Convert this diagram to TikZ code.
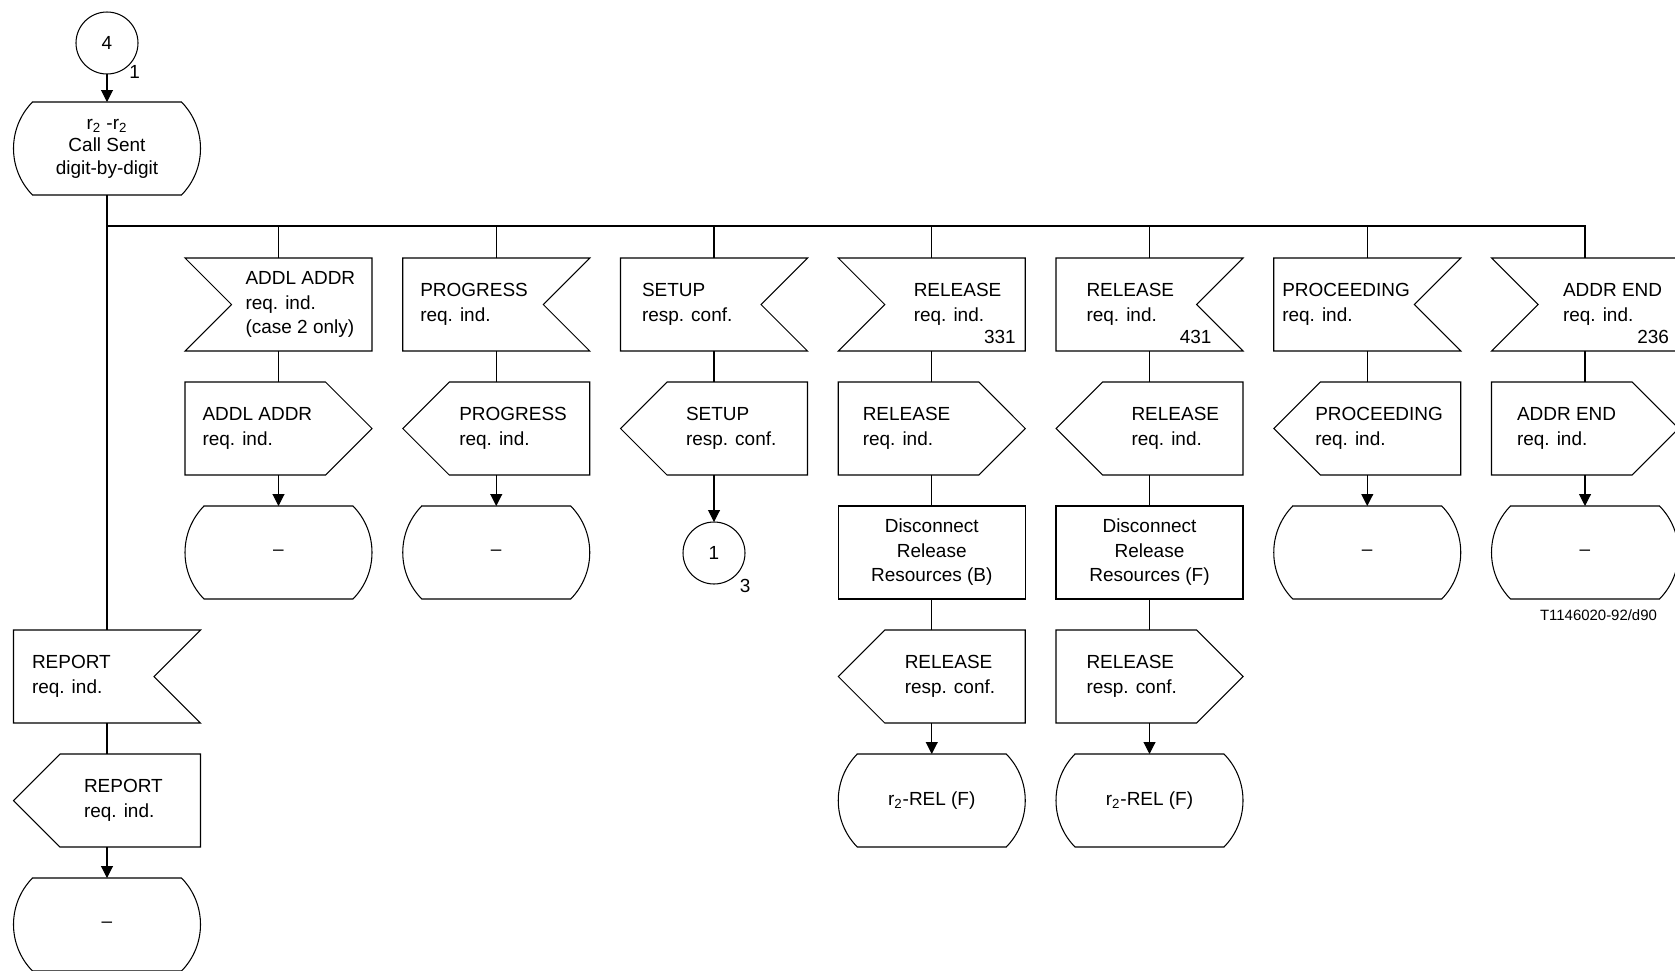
\documentclass[tikz,border=0pt]{standalone}
\usepackage{fontspec}
\setmainfont{Liberation Sans}
\usetikzlibrary{arrows.meta, positioning}
\tikzset{
  sdlframe/.style={rectangle, minimum width=3.74cm, minimum height=1.86cm,
    inner sep=0pt, outer sep=0pt},
  sdltext/.style={align=left, inner sep=0pt, anchor=west, xshift=#1},
  sdlnum/.style={inner sep=0pt, anchor=east, xshift=#1, yshift=-0.65cm},
  % input signals, notch on the left or on the right
  inwest/.style={sdlframe, append after command={\pgfextra{
    \draw (\tikzlastnode.north west) -- (\tikzlastnode.north east)
      -- (\tikzlastnode.south east) -- (\tikzlastnode.south west)
      -- ([xshift=0.93cm]\tikzlastnode.west) -- cycle;}}},
  ineast/.style={sdlframe, append after command={\pgfextra{
    \draw (\tikzlastnode.north west) -- (\tikzlastnode.north east)
      -- ([xshift=-0.93cm]\tikzlastnode.east) -- (\tikzlastnode.south east)
      -- (\tikzlastnode.south west) -- cycle;}}},
  % output signals, pointing left or right
  outwest/.style={sdlframe, append after command={\pgfextra{
    \draw ([xshift=0.93cm]\tikzlastnode.north west) -- (\tikzlastnode.north east)
      -- (\tikzlastnode.south east) -- ([xshift=0.93cm]\tikzlastnode.south west)
      -- (\tikzlastnode.west) -- cycle;}}},
  outeast/.style={sdlframe, append after command={\pgfextra{
    \draw (\tikzlastnode.north west) -- ([xshift=-0.93cm]\tikzlastnode.north east)
      -- (\tikzlastnode.east) -- ([xshift=-0.93cm]\tikzlastnode.south east)
      -- (\tikzlastnode.south west) -- cycle;}}},
  state/.style={sdlframe, align=center, append after command={\pgfextra{
    \draw ([xshift=0.38cm]\tikzlastnode.north west) -- ([xshift=-0.38cm]\tikzlastnode.north east)
      arc[start angle=44.45, end angle=-44.45, radius=1.328cm]
      -- ([xshift=0.38cm]\tikzlastnode.south west)
      arc[start angle=224.45, end angle=135.55, radius=1.328cm] -- cycle;}}},
  task/.style={sdlframe, align=center, append after command={\pgfextra{
    \draw (\tikzlastnode.north west) rectangle (\tikzlastnode.south east);}}},
  conn/.style={circle, draw, minimum size=1.24cm, inner sep=0pt, outer sep=0pt},
  flow/.style={-{Triangle[length=2.4mm, width=2.4mm]}},
  figtag/.style={font=\fontsize{8.5}{10}\selectfont, inner sep=0pt}
}

\begin{document}
\begin{tikzpicture}[node distance=0.62cm, line width=0.6pt,
    font=\fontsize{10.8}{13.9}\selectfont]
  \useasboundingbox (0,0) rectangle (33.5,-19.42);
  \node[conn, label={[inner sep=0pt]-45:1}] (c4) at (2.14,-0.86) {4};
  \node[state, below=0.56cm of c4, font=\fontsize{10.8}{12.8}\selectfont] (s0)
    {r\textsubscript{2} -r\textsubscript{2}\\Call Sent\\digit-by-digit};
  \coordinate[below=of s0] (bus);

  % received signals
  \node[inwest, label={[sdltext=1.2cm]west:ADDL ADDR\\req. ind.\\(case 2 only)}] (addlin) at (5.57,-6.09) {};
  \node[ineast, right=0.615cm of addlin, label={[sdltext=0.34cm]west:PROGRESS\\req. ind.}] (progin) {};
  \node[ineast, right=0.615cm of progin, label={[sdltext=0.42cm]west:SETUP\\resp. conf.}] (setupin) {};
  \node[inwest, right=0.615cm of setupin, label={[sdltext=1.5cm]west:RELEASE\\req. ind.},
    label={[sdlnum=-0.18cm]east:331}] (relbin) {};
  \node[ineast, right=0.615cm of relbin, label={[sdltext=0.6cm]west:RELEASE\\req. ind.},
    label={[sdlnum=-0.62cm]east:431}] (relfin) {};
  \node[ineast, right=0.615cm of relfin, label={[sdltext=0.16cm]west:PROCEEDING\\req. ind.}] (procin) {};
  \node[inwest, right=0.615cm of procin, label={[sdltext=1.42cm]west:ADDR END\\req. ind.},
    label={[sdlnum=-0.18cm]east:236}] (endin) {};

  % sent signals
  \node[outeast, below=of addlin, label={[sdltext=0.34cm]west:ADDL ADDR\\req. ind.}] (addlout) {};
  \node[outwest, below=of progin, label={[sdltext=1.12cm]west:PROGRESS\\req. ind.}] (progout) {};
  \node[outwest, below=of setupin, label={[sdltext=1.3cm]west:SETUP\\resp. conf.}] (setupout) {};
  \node[outeast, below=of relbin, label={[sdltext=0.48cm]west:RELEASE\\req. ind.}] (relbout) {};
  \node[outwest, below=of relfin, label={[sdltext=1.5cm]west:RELEASE\\req. ind.}] (relfout) {};
  \node[outwest, below=of procin, label={[sdltext=0.82cm]west:PROCEEDING\\req. ind.}] (procout) {};
  \node[outeast, below=of endin, label={[sdltext=0.5cm]west:ADDR END\\req. ind.}] (endout) {};

  \node[state, below=of addlout] (addlst) {--};
  \node[state, below=of progout] (progst) {--};
  \node[conn, below=0.94cm of setupout, label={[inner sep=0pt, label distance=0.1cm]-45:3}] (c1) {1};
  \node[task, below=of relbout] (disb) {Disconnect\\Release\\Resources (B)};
  \node[task, below=of relfout] (disf) {Disconnect\\Release\\Resources (F)};
  \node[state, below=of procout] (procst) {--};
  \node[state, below=of endout] (endst) {--};
  \node[figtag, below=0.2cm of endst, xshift=0.27cm] (tag) {T1146020-92/d90};

  \node[outwest, below=of disb, label={[sdltext=1.32cm]west:RELEASE\\resp. conf.}] (relbrsp) {};
  \node[outeast, below=of disf, label={[sdltext=0.6cm]west:RELEASE\\resp. conf.}] (relfrsp) {};
  \node[state, below=of relbrsp] (relbst) {r\textsubscript{2}-REL (F)};
  \node[state, below=of relfrsp] (relfst) {r\textsubscript{2}-REL (F)};

  \node[ineast, below=8.7cm of s0, label={[sdltext=0.36cm]west:REPORT\\req. ind.}] (repin) {};
  \node[outwest, below=of repin, label={[sdltext=1.4cm]west:REPORT\\req. ind.}] (repout) {};
  \node[state, below=of repout] (repst) {--};

  \draw[flow] (c4) -- (s0);
  \draw (s0) -- (repin);
  \draw (bus) -| (endin);
  \foreach \n in {addlin, progin, setupin, relbin, relfin, procin}
    \draw (\n) -- (\n |- bus);
  \draw (addlin) -- (addlout);
  \draw[flow] (addlout) -- (addlst);
  \draw (progin) -- (progout);
  \draw[flow] (progout) -- (progst);
  \draw (setupin) -- (setupout);
  \draw[flow] (setupout) -- (c1);
  \draw (relbin) -- (relbout) -- (disb) -- (relbrsp);
  \draw[flow] (relbrsp) -- (relbst);
  \draw (relfin) -- (relfout) -- (disf) -- (relfrsp);
  \draw[flow] (relfrsp) -- (relfst);
  \draw (procin) -- (procout);
  \draw[flow] (procout) -- (procst);
  \draw (endin) -- (endout);
  \draw[flow] (endout) -- (endst);
  \draw (repin) -- (repout);
  \draw[flow] (repout) -- (repst);
\end{tikzpicture}
\end{document}
